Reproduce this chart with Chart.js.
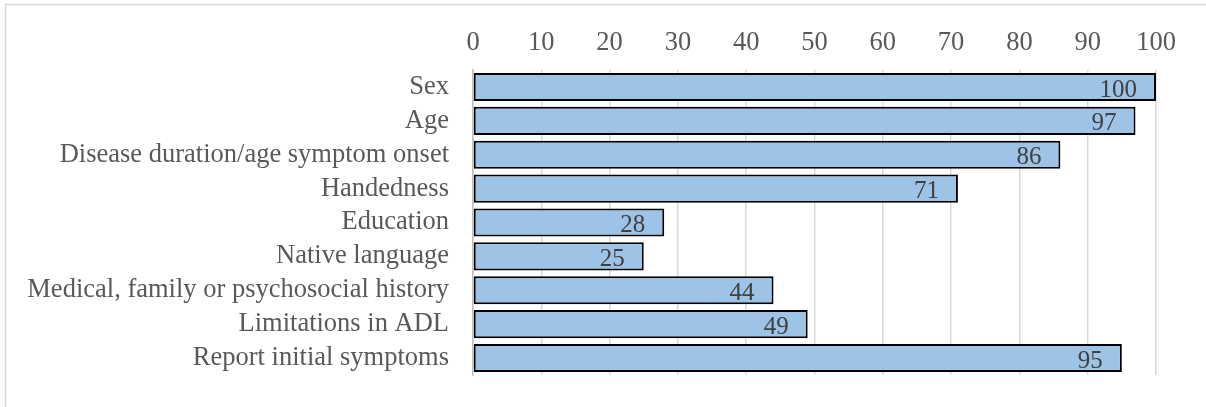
<!DOCTYPE html>
<html>
<head>
<meta charset="utf-8">
<script src="https://cdn.jsdelivr.net/npm/chart.js@4/dist/chart.umd.min.js"></script>
<style>
  html, body { margin: 0; padding: 0; background: #fff; overflow: hidden; }
  #wrap { width: 1206px; height: 407px; position: relative; }
</style>
</head>
<body>
<div id="wrap"><canvas id="chart" width="1206" height="407"></canvas></div>
<script>
var categories = [
    "Sex",
    "Age",
    "Disease duration/age symptom onset",
    "Handedness",
    "Education",
    "Native language",
    "Medical, family or psychosocial history",
    "Limitations in ADL",
    "Report initial symptoms"
];
var values = [100, 97, 86, 71, 28, 25, 44, 49, 95];
var tickValues = [0, 10, 20, 30, 40, 50, 60, 70, 80, 90, 100];

var FONT = "'Liberation Serif', 'Times New Roman', serif";

// frame round the chart (only top and left show in the picture)
var framePlugin = {
    id: 'frame',
    beforeDraw: function(chart) {
        var c = chart.ctx;
        c.save();
        c.strokeStyle = '#d9d9d9';
        c.lineWidth = 1.5;
        c.beginPath();
        c.moveTo(5.5, 420);
        c.lineTo(5.5, 4.5);
        c.lineTo(1220, 4.5);
        c.stroke();
        c.restore();
    }
};

// value labels inside the end of each bar
var valueLabels = {
    id: 'valueLabels',
    afterDatasetsDraw: function(chart) {
        var c = chart.ctx;
        var meta = chart.getDatasetMeta(0);
        c.save();
        c.font = "25px " + FONT;
        c.fillStyle = '#404040';
        c.textAlign = 'right';
        c.textBaseline = 'middle';
        meta.data.forEach(function(bar, i) {
            c.fillText(String(values[i]), bar.x - 19, bar.y + 3);
        });
        c.restore();
    }
};

new Chart(document.getElementById('chart'), {
    type: 'bar',
    data: {
        labels: categories,
        datasets: [{
            data: values,
            backgroundColor: '#9dc3e6',
            borderColor: '#000000',
            borderWidth: 2,
            borderSkipped: false,
            barPercentage: 0.83,
            categoryPercentage: 1.0
        }]
    },
    options: {
        indexAxis: 'y',
        responsive: false,
        animation: false,
        devicePixelRatio: 1,
        layout: { padding: { left: 0, top: 20, right: 50, bottom: 32 } },
        plugins: {
            legend: { display: false },
            tooltip: { enabled: false }
        },
        scales: {
            x: {
                position: 'top',
                min: 0,
                max: 100,
                afterBuildTicks: function(scale) {
                    scale.ticks = tickValues.map(function(v) { return { value: v }; });
                },
                grid: { color: '#d9d9d9', lineWidth: 1.5, drawTicks: false },
                border: { display: false },
                ticks: {
                    color: '#595959',
                    font: { family: FONT, size: 26.5 },
                    padding: 11,
                    maxRotation: 0
                },
                afterFit: function(scale) {
                    scale.height = 50;
                    scale.paddingLeft = 0;
                    scale.paddingRight = 0;
                }
            },
            y: {
                grid: { display: false, drawTicks: false },
                border: { display: true, color: '#bfbfbf', width: 1.5 },
                ticks: {
                    color: '#595959',
                    font: { family: FONT, size: 26.5 },
                    padding: 24,
                    autoSkip: false
                },
                afterFit: function(scale) {
                    scale.width = 473;
                    scale.paddingTop = 0;
                    scale.paddingBottom = 0;
                }
            }
        }
    },
    plugins: [framePlugin, valueLabels]
});
</script>
</body>
</html>
